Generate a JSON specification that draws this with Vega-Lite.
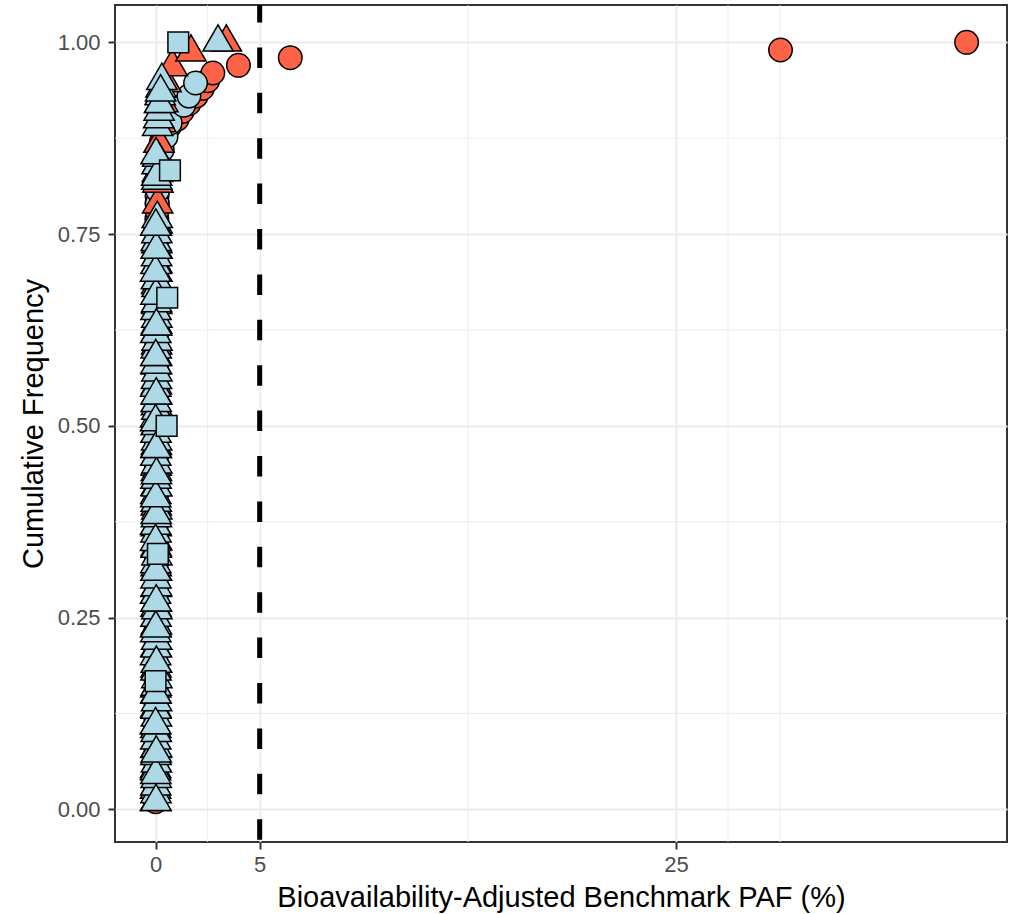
{
  "$schema": "https://vega.github.io/schema/vega-lite/v6.json",
  "width": 892,
  "height": 837,
  "autosize": {"type": "none"},
  "padding": {"left": 115, "top": 5, "right": 2, "bottom": 72},
  "background": "white",
  "config": {
    "view": {"stroke": "#333333", "strokeWidth": 2},
    "axis": {
      "domain": false, "grid": true, "gridColor": "#EBEBEB", "gridWidth": 1.8,
      "tickColor": "#333333", "tickWidth": 2, "tickSize": 7,
      "labelColor": "#4D4D4D", "labelFont": "Liberation Sans", "labelFontSize": 22,
      "titleFont": "Liberation Sans", "titleFontSize": 29, "titleFontWeight": "normal", "titleColor": "black"
    },
    "axisX": {"labelPadding": 5.6, "titleX": 446, "titleY": 64, "titleBaseline": "alphabetic", "titleAlign": "center"},
    "axisY": {"labelPadding": 8, "titleX": -73, "titleY": 418.5, "titleAngle": 270, "titleBaseline": "alphabetic", "titleAlign": "center"}
  },
  "datasets": {
    "minx": [{"x": 2.5}, {"x": 15}, {"x": 27.5}, {"x": 30}],
    "miny": [{"y": 0.125}, {"y": 0.375}, {"y": 0.625}, {"y": 0.875}],
    "vline": [{"x": 5}],
    "rc": [
      {"x":0.00,"y":0.01},{"x":0.00,"y":0.02},{"x":0.00,"y":0.03},{"x":0.01,"y":0.04},{"x":0.01,"y":0.05},{"x":0.01,"y":0.06},{"x":0.01,"y":0.07},{"x":0.01,"y":0.08},{"x":0.01,"y":0.09},{"x":0.01,"y":0.10},
      {"x":0.01,"y":0.11},{"x":0.01,"y":0.12},{"x":0.01,"y":0.13},{"x":0.01,"y":0.14},{"x":0.01,"y":0.15},{"x":0.02,"y":0.16},{"x":0.02,"y":0.17},{"x":0.02,"y":0.18},{"x":0.02,"y":0.19},{"x":0.02,"y":0.20},
      {"x":0.02,"y":0.21},{"x":0.02,"y":0.22},{"x":0.02,"y":0.23},{"x":0.02,"y":0.24},{"x":0.02,"y":0.25},{"x":0.02,"y":0.26},{"x":0.02,"y":0.27},{"x":0.03,"y":0.28},{"x":0.03,"y":0.29},{"x":0.03,"y":0.30},
      {"x":0.03,"y":0.31},{"x":0.03,"y":0.32},{"x":0.03,"y":0.33},{"x":0.03,"y":0.34},{"x":0.03,"y":0.35},{"x":0.03,"y":0.36},{"x":0.03,"y":0.37},{"x":0.03,"y":0.38},{"x":0.03,"y":0.39},{"x":0.03,"y":0.40},
      {"x":0.03,"y":0.41},{"x":0.03,"y":0.42},{"x":0.03,"y":0.43},{"x":0.03,"y":0.44},{"x":0.04,"y":0.45},{"x":0.04,"y":0.46},{"x":0.04,"y":0.47},{"x":0.04,"y":0.48},{"x":0.04,"y":0.49},{"x":0.04,"y":0.50},
      {"x":0.04,"y":0.51},{"x":0.04,"y":0.52},{"x":0.04,"y":0.53},{"x":0.04,"y":0.54},{"x":0.04,"y":0.55},{"x":0.04,"y":0.56},{"x":0.04,"y":0.57},{"x":0.04,"y":0.58},{"x":0.04,"y":0.59},{"x":0.05,"y":0.60},
      {"x":0.05,"y":0.61},{"x":0.05,"y":0.62},{"x":0.05,"y":0.63},{"x":0.05,"y":0.64},{"x":0.05,"y":0.65},{"x":0.05,"y":0.66},{"x":0.05,"y":0.67},{"x":0.05,"y":0.68},{"x":0.05,"y":0.69},{"x":0.05,"y":0.70},
      {"x":0.05,"y":0.71},{"x":0.05,"y":0.72},{"x":0.06,"y":0.73},{"x":0.06,"y":0.74},{"x":0.06,"y":0.75},{"x":0.06,"y":0.76},{"x":0.06,"y":0.77},{"x":0.07,"y":0.78},{"x":0.07,"y":0.79},{"x":0.07,"y":0.80},
      {"x":0.08,"y":0.81},{"x":0.09,"y":0.82},{"x":0.10,"y":0.83},{"x":0.12,"y":0.84},{"x":0.15,"y":0.85},{"x":0.20,"y":0.86},{"x":0.28,"y":0.87},{"x":0.40,"y":0.88},{"x":0.65,"y":0.89},{"x":1.04,"y":0.90},
      {"x":1.28,"y":0.91},{"x":1.60,"y":0.92},{"x":1.95,"y":0.93},{"x":2.25,"y":0.94},{"x":2.50,"y":0.95},{"x":2.75,"y":0.96},{"x":3.98,"y":0.97},{"x":6.47,"y":0.98},{"x":30.02,"y":0.99},{"x":38.96,"y":1.00}
    ],
    "bc": [
      {"x":0.00,"y":0.03},{"x":0.01,"y":0.07},{"x":0.01,"y":0.10},{"x":0.02,"y":0.14},{"x":0.02,"y":0.17},{"x":0.02,"y":0.21},{"x":0.03,"y":0.24},{"x":0.03,"y":0.28},{"x":0.03,"y":0.31},{"x":0.03,"y":0.34},
      {"x":0.04,"y":0.38},{"x":0.04,"y":0.41},{"x":0.04,"y":0.45},{"x":0.04,"y":0.48},{"x":0.05,"y":0.52},{"x":0.05,"y":0.55},{"x":0.05,"y":0.59},{"x":0.05,"y":0.62},{"x":0.06,"y":0.66},{"x":0.06,"y":0.69},
      {"x":0.06,"y":0.72},{"x":0.07,"y":0.76},{"x":0.08,"y":0.79},{"x":0.10,"y":0.807},{"x":0.13,"y":0.825},{"x":0.20,"y":0.842},{"x":0.32,"y":0.86},{"x":0.50,"y":0.877},{"x":0.70,"y":0.895},{"x":1.35,"y":0.918},
      {"x":1.60,"y":0.93},{"x":1.92,"y":0.947}
    ],
    "rt": [
      {"x":0.00,"y":0.026},{"x":0.00,"y":0.053},{"x":0.01,"y":0.079},{"x":0.01,"y":0.105},{"x":0.01,"y":0.132},{"x":0.01,"y":0.158},{"x":0.02,"y":0.184},{"x":0.02,"y":0.211},{"x":0.02,"y":0.237},{"x":0.02,"y":0.263},
      {"x":0.02,"y":0.289},{"x":0.03,"y":0.316},{"x":0.03,"y":0.342},{"x":0.03,"y":0.368},{"x":0.03,"y":0.395},{"x":0.03,"y":0.421},{"x":0.03,"y":0.447},{"x":0.04,"y":0.474},{"x":0.04,"y":0.50},{"x":0.04,"y":0.526},
      {"x":0.04,"y":0.553},{"x":0.04,"y":0.579},{"x":0.05,"y":0.605},{"x":0.05,"y":0.632},{"x":0.05,"y":0.658},{"x":0.05,"y":0.684},{"x":0.06,"y":0.711},{"x":0.06,"y":0.737},{"x":0.07,"y":0.763},{"x":0.10,"y":0.789},
      {"x":0.11,"y":0.816},{"x":0.13,"y":0.842},{"x":0.16,"y":0.868},{"x":0.25,"y":0.895},{"x":0.35,"y":0.921},{"x":0.50,"y":0.947},{"x":0.80,"y":0.968},{"x":1.70,"y":0.987},{"x":3.40,"y":1.00}
    ],
    "bt1": [
      {"x":0.00,"y":0.01},{"x":0.02,"y":0.02},{"x":0.01,"y":0.03},{"x":0.03,"y":0.04},{"x":0.00,"y":0.05},{"x":0.04,"y":0.06},{"x":0.02,"y":0.07},{"x":0.05,"y":0.08},{"x":0.01,"y":0.09},{"x":0.03,"y":0.10},
      {"x":0.00,"y":0.11},{"x":0.04,"y":0.12},{"x":0.02,"y":0.13},{"x":0.05,"y":0.14},{"x":0.01,"y":0.15},{"x":0.03,"y":0.16},{"x":0.06,"y":0.17},{"x":0.02,"y":0.18},{"x":0.04,"y":0.19},{"x":0.00,"y":0.20},
      {"x":0.03,"y":0.21},{"x":0.05,"y":0.22},{"x":0.01,"y":0.23},{"x":0.04,"y":0.24},{"x":0.02,"y":0.25},{"x":0.06,"y":0.26},{"x":0.03,"y":0.27},{"x":0.00,"y":0.28},{"x":0.05,"y":0.29},{"x":0.02,"y":0.30},
      {"x":0.04,"y":0.31},{"x":0.01,"y":0.32},{"x":0.06,"y":0.33},{"x":0.03,"y":0.34},{"x":0.05,"y":0.35},{"x":0.02,"y":0.36},{"x":0.00,"y":0.37},{"x":0.04,"y":0.38},{"x":0.06,"y":0.39},{"x":0.03,"y":0.40},
      {"x":0.01,"y":0.41},{"x":0.05,"y":0.42},{"x":0.02,"y":0.43},{"x":0.04,"y":0.44},{"x":0.06,"y":0.45},{"x":0.01,"y":0.46},{"x":0.03,"y":0.47},{"x":0.05,"y":0.48},{"x":0.02,"y":0.49},{"x":0.04,"y":0.50},
      {"x":0.00,"y":0.51},{"x":0.06,"y":0.52},{"x":0.03,"y":0.53},{"x":0.05,"y":0.54},{"x":0.01,"y":0.55},{"x":0.04,"y":0.56},{"x":0.06,"y":0.57},{"x":0.02,"y":0.58},{"x":0.05,"y":0.59},{"x":0.03,"y":0.60},
      {"x":0.07,"y":0.61},{"x":0.01,"y":0.62},{"x":0.04,"y":0.63},{"x":0.06,"y":0.64},{"x":0.02,"y":0.65},{"x":0.05,"y":0.66},{"x":0.03,"y":0.67},{"x":0.07,"y":0.68},{"x":0.04,"y":0.69},{"x":0.06,"y":0.70},
      {"x":0.02,"y":0.71},{"x":0.05,"y":0.72},{"x":0.07,"y":0.73},{"x":0.03,"y":0.74},{"x":0.06,"y":0.75},{"x":0.04,"y":0.76},{"x":0.08,"y":0.77},
      {"x":0.06,"y":0.82},{"x":0.09,"y":0.83},{"x":0.07,"y":0.84},{"x":0.10,"y":0.85},
      {"x":0.10,"y":0.89},{"x":0.15,"y":0.90},{"x":0.17,"y":0.91},{"x":0.20,"y":0.92},{"x":0.22,"y":0.93},{"x":0.26,"y":0.94},{"x":0.30,"y":0.95}
    ],
    "bt2": [
      {"x":0.02,"y":0.01},{"x":0.01,"y":0.045},{"x":0.03,"y":0.073},{"x":0.00,"y":0.11},{"x":0.02,"y":0.15},{"x":0.04,"y":0.19},{"x":0.01,"y":0.236},{"x":0.03,"y":0.27},{"x":0.02,"y":0.31},{"x":0.00,"y":0.349},
      {"x":0.03,"y":0.384},{"x":0.01,"y":0.406},{"x":0.04,"y":0.436},{"x":0.02,"y":0.47},{"x":0.00,"y":0.505},{"x":0.03,"y":0.54},{"x":0.01,"y":0.59},{"x":0.04,"y":0.63},{"x":0.02,"y":0.67},{"x":0.00,"y":0.70},
      {"x":0.03,"y":0.73},{"x":0.01,"y":0.76},{"x":0.05,"y":0.825},{"x":0.02,"y":0.853},{"x":0.20,"y":0.92},{"x":0.24,"y":0.935},{"x":3.00,"y":1.00}
    ],
    "bs": [
      {"x":0.00,"y":0.167},{"x":0.11,"y":0.333},{"x":0.53,"y":0.50},{"x":0.56,"y":0.667},{"x":0.69,"y":0.833},{"x":1.09,"y":1.00}
    ]
  },
  "layer": [
    {
      "data": {"name": "minx"},
      "mark": {"type": "rule", "color": "#EBEBEB", "strokeWidth": 0.9},
      "encoding": {
        "x": {"field": "x", "type": "quantitative", "scale": {"domain": [-1.95, 40.9], "nice": false, "zero": false}, "title": "Bioavailability-Adjusted Benchmark PAF (%)", "axis": {"values": [0, 5, 25]}}
      }
    },
    {
      "data": {"name": "miny"},
      "mark": {"type": "rule", "color": "#EBEBEB", "strokeWidth": 0.9},
      "encoding": {
        "y": {"field": "y", "type": "quantitative", "scale": {"domain": [-0.0426, 1.0487], "nice": false, "zero": false}, "title": "Cumulative Frequency", "axis": {"values": [0, 0.25, 0.5, 0.75, 1], "format": ".2f"}}
      }
    },
    {
      "data": {"name": "vline"},
      "mark": {"type": "rule", "color": "black", "strokeWidth": 5, "strokeDash": [20.5, 24.9], "strokeDashOffset": 3},
      "encoding": {
        "x": {"field": "x", "type": "quantitative", "scale": {"domain": [-1.95, 40.9], "nice": false, "zero": false}, "title": "Bioavailability-Adjusted Benchmark PAF (%)", "axis": {"values": [0, 5, 25]}}
      }
    },
    {
      "data": {"name": "rc"},
      "mark": {"type": "point", "shape": "circle", "filled": true, "fill": "#FF6347", "stroke": "black", "strokeWidth": 1.5, "opacity": 1, "size": 552},
      "encoding": {
        "x": {"field": "x", "type": "quantitative", "scale": {"domain": [-1.95, 40.9], "nice": false, "zero": false}, "title": "Bioavailability-Adjusted Benchmark PAF (%)", "axis": {"values": [0, 5, 25]}},
        "y": {"field": "y", "type": "quantitative", "scale": {"domain": [-0.0426, 1.0487], "nice": false, "zero": false}, "title": "Cumulative Frequency", "axis": {"values": [0, 0.25, 0.5, 0.75, 1], "format": ".2f"}}
      }
    },
    {
      "data": {"name": "bc"},
      "mark": {"type": "point", "shape": "circle", "filled": true, "fill": "#ADD8E6", "stroke": "black", "strokeWidth": 1.5, "opacity": 1, "size": 552},
      "encoding": {
        "x": {"field": "x", "type": "quantitative", "scale": {"domain": [-1.95, 40.9], "nice": false, "zero": false}, "title": "Bioavailability-Adjusted Benchmark PAF (%)", "axis": {"values": [0, 5, 25]}},
        "y": {"field": "y", "type": "quantitative", "scale": {"domain": [-0.0426, 1.0487], "nice": false, "zero": false}, "title": "Cumulative Frequency", "axis": {"values": [0, 0.25, 0.5, 0.75, 1], "format": ".2f"}}
      }
    },
    {
      "data": {"name": "rt"},
      "mark": {"type": "point", "shape": "M0,-1.155L1,0.577L-1,0.577Z", "filled": true, "fill": "#FF6347", "stroke": "black", "strokeWidth": 1.5, "opacity": 1, "size": 920},
      "encoding": {
        "x": {"field": "x", "type": "quantitative", "scale": {"domain": [-1.95, 40.9], "nice": false, "zero": false}, "title": "Bioavailability-Adjusted Benchmark PAF (%)", "axis": {"values": [0, 5, 25]}},
        "y": {"field": "y", "type": "quantitative", "scale": {"domain": [-0.0426, 1.0487], "nice": false, "zero": false}, "title": "Cumulative Frequency", "axis": {"values": [0, 0.25, 0.5, 0.75, 1], "format": ".2f"}}
      }
    },
    {
      "data": {"name": "bt1"},
      "mark": {"type": "point", "shape": "M0,-1.155L1,0.577L-1,0.577Z", "filled": true, "fill": "#ADD8E6", "stroke": "black", "strokeWidth": 1.5, "opacity": 1, "size": 920},
      "encoding": {
        "x": {"field": "x", "type": "quantitative", "scale": {"domain": [-1.95, 40.9], "nice": false, "zero": false}, "title": "Bioavailability-Adjusted Benchmark PAF (%)", "axis": {"values": [0, 5, 25]}},
        "y": {"field": "y", "type": "quantitative", "scale": {"domain": [-0.0426, 1.0487], "nice": false, "zero": false}, "title": "Cumulative Frequency", "axis": {"values": [0, 0.25, 0.5, 0.75, 1], "format": ".2f"}}
      }
    },
    {
      "data": {"name": "bt2"},
      "mark": {"type": "point", "shape": "M0,-1.155L1,0.577L-1,0.577Z", "filled": true, "fill": "#ADD8E6", "stroke": "black", "strokeWidth": 1.5, "opacity": 1, "size": 920},
      "encoding": {
        "x": {"field": "x", "type": "quantitative", "scale": {"domain": [-1.95, 40.9], "nice": false, "zero": false}, "title": "Bioavailability-Adjusted Benchmark PAF (%)", "axis": {"values": [0, 5, 25]}},
        "y": {"field": "y", "type": "quantitative", "scale": {"domain": [-0.0426, 1.0487], "nice": false, "zero": false}, "title": "Cumulative Frequency", "axis": {"values": [0, 0.25, 0.5, 0.75, 1], "format": ".2f"}}
      }
    },
    {
      "data": {"name": "bs"},
      "mark": {"type": "point", "shape": "square", "filled": true, "fill": "#ADD8E6", "stroke": "black", "strokeWidth": 1.5, "opacity": 1, "size": 430},
      "encoding": {
        "x": {"field": "x", "type": "quantitative", "scale": {"domain": [-1.95, 40.9], "nice": false, "zero": false}, "title": "Bioavailability-Adjusted Benchmark PAF (%)", "axis": {"values": [0, 5, 25]}},
        "y": {"field": "y", "type": "quantitative", "scale": {"domain": [-0.0426, 1.0487], "nice": false, "zero": false}, "title": "Cumulative Frequency", "axis": {"values": [0, 0.25, 0.5, 0.75, 1], "format": ".2f"}}
      }
    }
  ]
}
